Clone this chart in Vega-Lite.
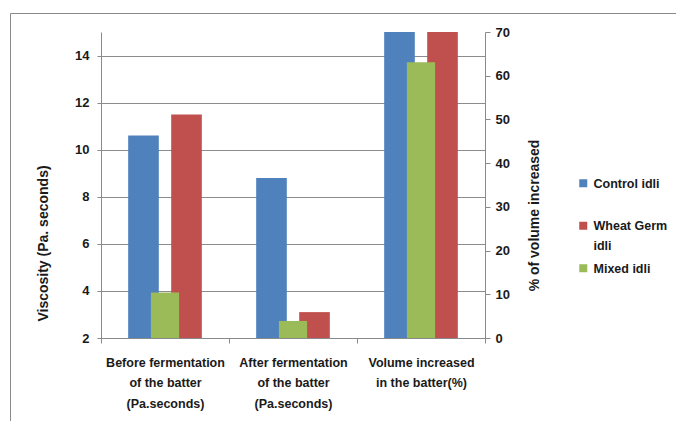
{
  "$schema": "https://vega.github.io/schema/vega-lite/v6.json",
  "width": 666,
  "height": 408,
  "autosize": {"type": "none"},
  "padding": {"left": 10, "top": 13, "right": 0, "bottom": 0},
  "background": "white",
  "config": {
    "view": {"stroke": "#8a8a8a", "strokeWidth": 1},
    "font": "Liberation Sans",
    "axis": {
      "domainColor": "#8a8a8a",
      "tickColor": "#8a8a8a",
      "gridColor": "#8c8c8c",
      "labelFont": "Liberation Sans",
      "labelFontWeight": "bold",
      "labelColor": "#1a1a1a",
      "titleFont": "Liberation Sans",
      "titleFontWeight": "bold",
      "titleColor": "#1a1a1a"
    }
  },
  "data": {
    "values": [
      {"group": "Before fermentation\nof the batter\n(Pa.seconds)", "sample": "Control idli", "value": 10.6},
      {"group": "Before fermentation\nof the batter\n(Pa.seconds)", "sample": "Wheat Germ idli", "value": 11.5},
      {"group": "Before fermentation\nof the batter\n(Pa.seconds)", "sample": "Mixed idli", "value": 10.4},
      {"group": "After fermentation\nof the batter\n(Pa.seconds)", "sample": "Control idli", "value": 8.8},
      {"group": "After fermentation\nof the batter\n(Pa.seconds)", "sample": "Wheat Germ idli", "value": 3.1},
      {"group": "After fermentation\nof the batter\n(Pa.seconds)", "sample": "Mixed idli", "value": 3.9},
      {"group": "Volume increased\nin the batter(%)", "sample": "Control idli", "value": 70},
      {"group": "Volume increased\nin the batter(%)", "sample": "Wheat Germ idli", "value": 70},
      {"group": "Volume increased\nin the batter(%)", "sample": "Mixed idli", "value": 63.1}
    ]
  },
  "encoding": {
    "x": {
      "field": "group",
      "type": "nominal",
      "sort": null,
      "scale": {"range": [91, 475], "paddingInner": 0, "paddingOuter": 0},
      "axis": {
        "title": null,
        "orient": "bottom",
        "offset": -83,
        "labelAngle": 0,
        "labelExpr": "split(datum.label, '\\n')",
        "labelLineHeight": 20.5,
        "labelFontSize": 12.5,
        "labelPadding": 13,
        "labelBaseline": "top",
        "tickBand": "extent",
        "tickSize": 5
      }
    },
    "color": {
      "field": "sample",
      "type": "nominal",
      "scale": {
        "domain": ["Control idli", "Wheat Germ idli", "Mixed idli"],
        "range": ["#4f81bd", "#c0504d", "#9bbb59"]
      },
      "legend": {
        "title": null,
        "orient": "none",
        "legendX": 567,
        "legendY": 164,
        "padding": 0,
        "gridAlign": "all",
        "symbolType": "square",
        "symbolSize": 64,
        "symbolStrokeWidth": 0,
        "labelFont": "Liberation Sans",
        "labelFontSize": 12.5,
        "labelFontWeight": "bold",
        "labelColor": "#1a1a1a",
        "labelOffset": 4,
        "rowPadding": 8.5,
        "labelExpr": "datum.label == 'Wheat Germ idli' ? ['Wheat Germ', 'idli'] : datum.label",
        "encode": {
          "labels": {
            "update": {
              "baseline": {"value": "alphabetic"},
              "dy": {"value": 4.5},
              "lineHeight": {"value": 20}
            }
          }
        }
      }
    }
  },
  "layer": [
    {
      "transform": [{"filter": "datum.sample !== 'Mixed idli'"}],
      "mark": {"type": "bar"},
      "encoding": {
        "xOffset": {
          "field": "sample",
          "type": "nominal",
          "scale": {
            "domain": ["Control idli", "Wheat Germ idli"],
            "paddingInner": 0.288,
            "paddingOuter": 0.632
          }
        },
        "y": {
          "field": "value",
          "type": "quantitative",
          "scale": {"domain": [2, 15], "range": [325, 19], "clamp": true, "nice": false, "zero": false},
          "axis": {
            "orient": "left",
            "offset": -91,
            "values": [2, 4, 6, 8, 10, 12, 14],
            "grid": true,
            "tickSize": 4,
            "labelPadding": 8,
            "labelFontSize": 13,
            "title": "Viscosity (Pa.  seconds)",
            "titleFontSize": 14,
            "titleAngle": -90,
            "titleAlign": "center",
            "titleBaseline": "middle",
            "titleX": -58,
            "titleY": 230
          }
        },
        "y2": {"datum": 2}
      }
    },
    {
      "transform": [{"filter": "datum.sample === 'Mixed idli'"}],
      "mark": {"type": "bar", "width": {"band": 0.22}},
      "encoding": {
        "y": {
          "field": "value",
          "type": "quantitative",
          "scale": {"domain": [0, 70], "range": [325, 19], "nice": false},
          "axis": {
            "orient": "right",
            "offset": -191,
            "values": [0, 10, 20, 30, 40, 50, 60, 70],
            "grid": false,
            "tickSize": 5,
            "labelPadding": 5,
            "labelFontSize": 13,
            "title": "% of volume increased",
            "titleFontSize": 14,
            "titleAngle": -90,
            "titleAlign": "center",
            "titleBaseline": "middle",
            "titleX": 49,
            "titleY": 202
          }
        }
      }
    }
  ],
  "resolve": {"scale": {"y": "independent"}, "axis": {"y": "independent"}}
}
